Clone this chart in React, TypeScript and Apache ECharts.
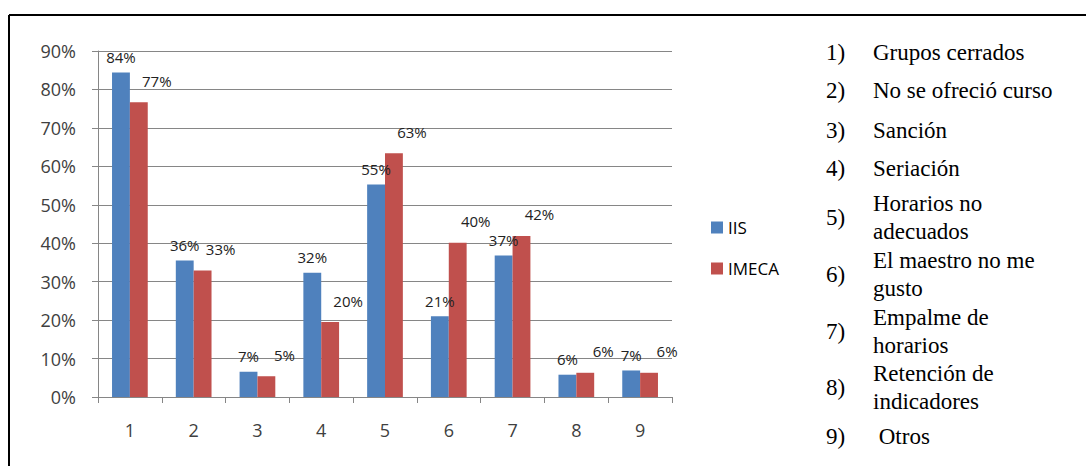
import React, { useEffect, useRef } from "react";
import * as echarts from "echarts";

const categories = ["1", "2", "3", "4", "5", "6", "7", "8", "9"];
const iisValues = [84.4, 35.5, 6.6, 32.3, 55.3, 21.0, 36.8, 5.8, 6.9];
const imecaValues = [76.7, 32.9, 5.4, 19.5, 63.4, 40.1, 41.9, 6.3, 6.3];
const yTicks = [0, 10, 20, 30, 40, 50, 60, 70, 80, 90];
const reasonNumbers = ["1)", "2)", "3)", "4)", "5)", "6)", "7)", "8)", "9)"];
const reasonTexts = [
  ["Grupos cerrados"],
  ["No se ofreció curso"],
  ["Sanción"],
  ["Seriación"],
  ["Horarios no", "adecuados"],
  ["El maestro no me", "gusto"],
  ["Empalme de", "horarios"],
  ["Retención de", "indicadores"],
  [" Otros"],
];

const rowY = [52, 90, 130, 168, 217, 274, 331, 387, 436];

export default function App() {
  const ref = useRef<HTMLDivElement>(null);
  useEffect(() => {
    if (!ref.current) return;
    const chart = echarts.init(ref.current, null, { renderer: "svg" });
    const sans = "Open Sans";
    const textStyle = (text: string) => ({
      text,
      fontFamily: "Liberation Serif",
      fontSize: 23,
      fill: "#000",
      verticalAlign: "middle",
      align: "left",
    });
    const graphics: any[] = [
      { type: "line", shape: { x1: 9, y1: 15, x2: 1086, y2: 15 }, style: { stroke: "#000", lineWidth: 2 } },
      { type: "line", shape: { x1: 9, y1: 15, x2: 9, y2: 466 }, style: { stroke: "#000", lineWidth: 2 } },
    ];
    reasonNumbers.forEach((n, i) => {
      graphics.push({ type: "text", x: 826, y: rowY[i], style: textStyle(n) });
      const lines = reasonTexts[i];
      if (lines.length === 1) {
        graphics.push({ type: "text", x: 873, y: rowY[i], style: textStyle(lines[0]) });
      } else {
        lines.forEach((l, j) => {
          graphics.push({ type: "text", x: 873, y: rowY[i] + (j === 0 ? -14 : 14), style: textStyle(l) });
        });
      }
    });
    const labelFmt = (p: any) => Math.round(p.value) + "%";
    chart.setOption({
      animation: false,
      backgroundColor: "#fff",
      grid: { left: 98, right: 414, top: 51, bottom: 69 },
      legend: {
        orient: "vertical",
        left: 706,
        top: 214,
        itemWidth: 12,
        itemHeight: 12,
        itemGap: 24,
        icon: "rect",
        textStyle: { fontFamily: sans, fontSize: 17, color: "#000" },
        data: ["IIS", "IMECA"],
      },
      xAxis: {
        type: "category",
        data: categories,
        axisLine: { lineStyle: { color: "#868686" } },
        axisTick: { show: true, length: 6, lineStyle: { color: "#868686" } },
        axisLabel: { fontFamily: sans, fontSize: 18, color: "#404040", margin: 24 },
      },
      yAxis: {
        type: "value",
        min: 0,
        max: 90,
        interval: 10,
        axisLine: { show: true, lineStyle: { color: "#868686" } },
        axisTick: { show: true, length: 6, lineStyle: { color: "#868686" } },
        splitLine: { lineStyle: { color: "#868686" } },
        axisLabel: {
          fontFamily: sans,
          fontSize: 18,
          color: "#404040",
          margin: 22,
          formatter: (v: number) => (yTicks.includes(v) ? v + "%" : ""),
        },
      },
      graphic: graphics,
      series: [
        {
          name: "IIS",
          type: "bar",
          data: iisValues,
          barWidth: "28%",
          barGap: "0%",
          itemStyle: { color: "#4F81BD" },
          label: {
            show: true,
            position: "top",
            distance: 8,
            formatter: labelFmt,
            fontFamily: sans,
            fontSize: 15,
            color: "#222",
          },
        },
        {
          name: "IMECA",
          type: "bar",
          data: imecaValues,
          barWidth: "28%",
          itemStyle: { color: "#C0504D" },
          label: {
            show: true,
            position: "top",
            distance: 8,
            offset: [18, -6],
            formatter: labelFmt,
            fontFamily: sans,
            fontSize: 15,
            color: "#222",
          },
        },
      ],
    });
    return () => chart.dispose();
  }, []);
  return <div ref={ref} style={{ width: 1086, height: 466, position: "absolute", left: 0, top: 0 }} />;
}
